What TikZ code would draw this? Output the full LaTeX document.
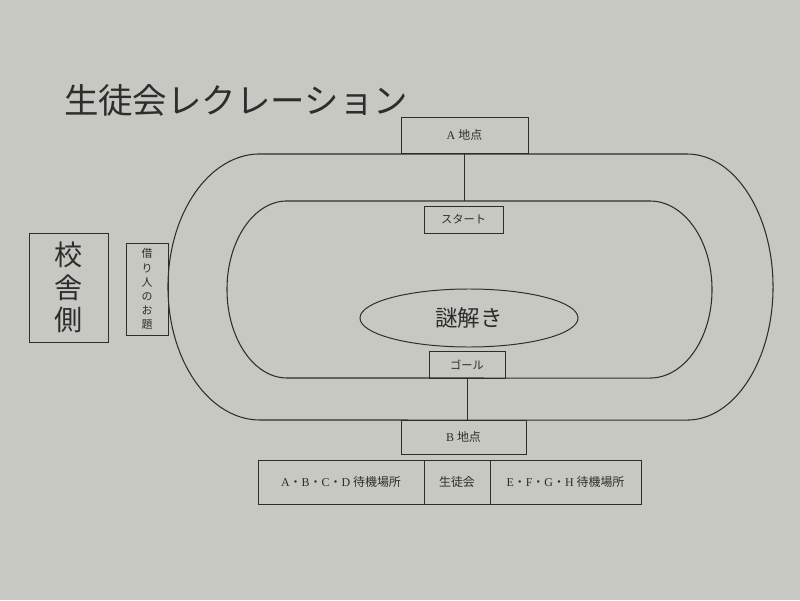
\documentclass[tikz,border=0pt]{standalone}
\usepackage{fontspec}
\setmainfont{Liberation Serif}
\newfontfamily\jp{Noto Sans CJK JP}
\usetikzlibrary{shapes.geometric}
\definecolor{paper}{RGB}{200,200,194}
\definecolor{ink}{RGB}{45,45,45}
\newcommand{\jdot}{{\jp ・}}
\begin{document}
\begin{tikzpicture}[x=0.025cm,y=0.025cm,
  line/.style={draw=ink,line width=0.75pt},
  box/.style={draw=ink,line width=0.6pt,inner sep=0pt,text=ink,
    font=\fontsize{8.5}{10}\selectfont},
  small/.style={font=\fontsize{8}{10}\selectfont}]
\fill[paper] (0,0) rectangle (800,600);
\useasboundingbox (0,0) rectangle (800,600);

% title
\node[text=ink] (title) at (236,500) {\jp\fontsize{24.5}{28}\selectfont 生徒会レクレーション};

% tracks
\draw[line] (260,446) -- (687,446)
  arc[start angle=90,end angle=-90,x radius=2.15cm,y radius=3.325cm]
  -- (260,180)
  arc[start angle=270,end angle=90,x radius=2.3cm,y radius=3.325cm] -- cycle;
\draw[line] (287,399) -- (650,399)
  arc[start angle=90,end angle=-90,x radius=1.55cm,y radius=2.2125cm]
  -- (287,222)
  arc[start angle=270,end angle=90,x radius=1.5cm,y radius=2.2125cm] -- cycle;
\coordinate (innerTop) at (465,399);

% nodes
\node[box,minimum width=3.175cm,minimum height=0.9cm] (A) at (464.5,465) {A {\jp 地点}};
\node[box,small,minimum width=1.975cm,minimum height=0.675cm] (start) at (463.5,380.5) {\jp スタート};
\node[draw=ink,line width=0.7pt,ellipse,inner sep=0pt,minimum width=5.45cm,minimum height=1.45cm,text=ink,
  font=\jp\fontsize{16}{18}\selectfont] (nazo) at (469,282) {謎解き};
\node[box,small,minimum width=1.9cm,minimum height=0.675cm] (goal) at (467,235.5) {\jp ゴール};
\node[box,minimum width=3.125cm,minimum height=0.85cm] (B) at (463.5,163) {B {\jp 地点}};

\node[box,minimum width=4.15cm,minimum height=1.1cm] (w1) at (341,118) {A\jdot B\jdot C\jdot D {\jp 待機場所}};
\node[box,minimum width=1.65cm,minimum height=1.1cm] (sg) at (457,118) {\jp 生徒会};
\node[box,minimum width=3.775cm,minimum height=1.1cm] (w2) at (565.5,118) {E\jdot F\jdot G\jdot H {\jp 待機場所}};

\node[box,align=center,minimum width=1.975cm,minimum height=2.725cm,
  font=\jp\fontsize{20}{23}\selectfont] (school) at (68.5,312.5) {校\\舎\\側};
\node[box,align=center,minimum width=1.05cm,minimum height=2.3cm,
  font=\jp\fontsize{7.8}{10}\selectfont] (odai) at (147,311) {借\\り\\人\\の\\お\\題};

% connectors
\draw[line,line width=0.6pt] (A.south) -- (A.south |- innerTop);
\draw[line,line width=0.6pt] (goal.south) -- (goal.south |- B.north);
\end{tikzpicture}
\end{document}
